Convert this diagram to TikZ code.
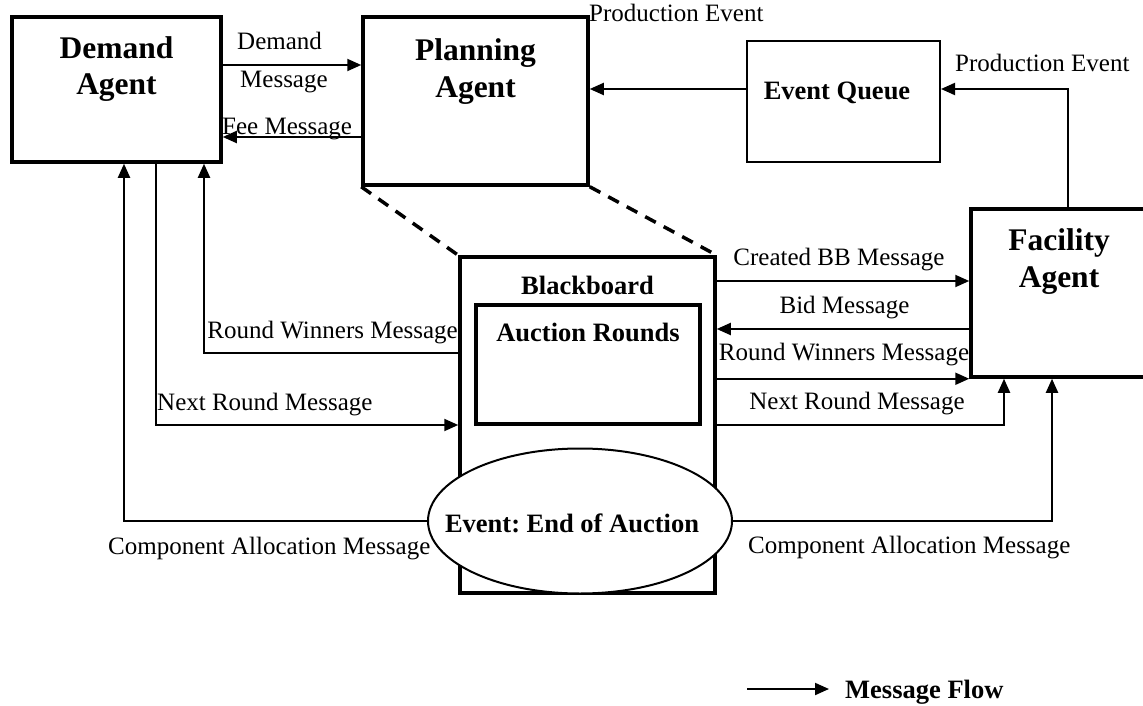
\documentclass[tikz,border=0pt]{standalone}
\usepackage{fontspec}
\setmainfont{Liberation Serif}
\usetikzlibrary{arrows.meta,shapes.geometric}
\frenchspacing

\tikzset{
  agentbox/.style={draw, line width=3.5pt, inner sep=0pt, fill=white},
  plainbox/.style={draw, line width=2pt, inner sep=0pt, fill=white},
  eventoval/.style={draw, ellipse, line width=2pt, inner sep=0pt, fill=white},
  msg/.style={line width=2pt, -{Triangle[length=14pt,width=12pt]}},
  zoomline/.style={line width=3.5pt, dash pattern=on 12pt off 9pt},
  lbl/.style={font=\fontsize{25}{30}\selectfont, inner sep=0pt},
  head/.style={font=\bfseries\fontsize{31.5}{36.5}\selectfont, align=center, inner sep=0pt},
  title/.style={font=\bfseries\fontsize{26.5}{31}\selectfont, inner sep=0pt},
}

\begin{document}
\begin{tikzpicture}[x=1pt,y=-1pt]
\useasboundingbox (0,0) rectangle (1143,706);

% agents and components
\node[agentbox, minimum width=209pt, minimum height=145pt] (demand) at (116.5,89.5) {};
\node[agentbox, minimum width=225pt, minimum height=168pt] (planning) at (475.5,101) {};
\node[plainbox, minimum width=193pt, minimum height=121pt] (queue) at (843.5,101.5) {};
\node[agentbox, minimum width=176pt, minimum height=168pt] (facility) at (1059,293) {};
\node[agentbox, minimum width=255pt, minimum height=336pt] (board) at (587.5,425) {};
\node[agentbox, minimum width=224pt, minimum height=119pt] (rounds) at (588,364.5) {};
\node[eventoval, minimum width=304pt, minimum height=145pt] (endauction) at (580,521) {};

% box titles
\node[head] (demandtxt) at (116.5,69.2) {Demand\\Agent};
\node[head] (planningtxt) at (475.5,71.7) {Planning\\Agent};
\node[head] (facilitytxt) at (1059,261.7) {Facility\\Agent};
\node[title, anchor=base] (queuetxt) at (837,100) {Event Queue};
\node[title, anchor=base] (boardtxt) at (587.5,294) {Blackboard};
\node[title, anchor=base] (roundstxt) at (588,341) {Auction Rounds};
\node[title, anchor=base] (endtxt) at (572,532) {Event: End of Auction};

% Blackboard is a detail of the planning agent
\draw[zoomline] (planning.south west) -- (board.north west);
\draw[zoomline] (planning.south east) -- (board.north east);

% demand agent <-> planning agent
\draw[msg] (demand.east |- 0,65) -- (planning.west |- 0,65);
\draw[msg] (planning.west |- 0,137) -- (demand.east |- 0,137);
\node[lbl, anchor=base west] at (237,50) {Demand};
\node[lbl, anchor=base west] at (240,88) {Message};
\node[lbl, anchor=base west] at (222,135) {Fee Message};

% event queue
\draw[msg] (queue.west |- 0,89) -- (planning.east |- 0,89);
\coordinate (prodcorner) at (1068,89);
\draw[msg] (facility.north -| prodcorner) -- (prodcorner) -- (queue.east |- prodcorner);
\node[lbl, anchor=base west] at (955,72) {Production Event};
\node[lbl, anchor=base west] at (589,22) {Production Event};

% blackboard -> demand agent
\coordinate (rwl) at (204,353);
\draw[msg] (board.west |- rwl) -- (rwl) -- (rwl |- demand.south);
\node[lbl, anchor=base east] at (458,338) {Round Winners Message};

\coordinate (nrl) at (156,425);
\draw[msg] (nrl |- demand.south) -- (nrl) -- (board.west |- nrl);
\node[lbl, anchor=base west] at (157,410) {Next Round Message};

\coordinate (cal) at (124,521);
\draw[msg] (endauction.west) -- (cal) -- (cal |- demand.south);
\node[lbl, anchor=base west] at (108,554) {Component Allocation Message};

% blackboard <-> facility agent
\draw[msg] (board.east |- 0,281) -- (facility.west |- 0,281);
\node[lbl, anchor=base] at (839,265) {Created BB Message};

\draw[msg] (facility.west |- 0,329) -- (board.east |- 0,329);
\node[lbl, anchor=base] at (844.5,313) {Bid Message};

\draw[msg] (board.east |- facility.south) -- (facility.south west);
\node[lbl, anchor=base] at (844,360) {Round Winners Message};

\coordinate (nrr) at (1004,425);
\draw[msg] (board.east |- nrr) -- (nrr) -- (nrr |- facility.south);
\node[lbl, anchor=base] at (857,409) {Next Round Message};

\coordinate (car) at (1052,521);
\draw[msg] (endauction.east) -- (car) -- (car |- facility.south);
\node[lbl, anchor=base west] at (748,553) {Component Allocation Message};

% legend
\coordinate (legfrom) at (747,689);
\coordinate (legto) at (829,689);
\draw[msg] (legfrom) -- (legto);
\node[title, anchor=base west] (legtxt) at (845,698) {Message Flow};
\end{tikzpicture}
\end{document}
